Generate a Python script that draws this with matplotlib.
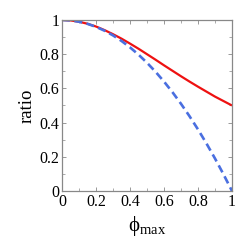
import matplotlib
matplotlib.use("Agg")
import matplotlib.pyplot as plt
from matplotlib.ticker import MultipleLocator, FixedLocator, FixedFormatter

phi = [0.0, 0.05, 0.1, 0.15, 0.2, 0.25, 0.3, 0.35, 0.4, 0.45, 0.5,
       0.55, 0.6, 0.65, 0.7, 0.75, 0.8, 0.85, 0.9, 0.95, 1.0]
ratio_red = [1.0, 0.9975, 0.990, 0.978, 0.962, 0.941, 0.917, 0.891, 0.862, 0.832, 0.800,
             0.768, 0.735, 0.703, 0.671, 0.640, 0.610, 0.581, 0.552, 0.526, 0.500]
ratio_blue = [1.0, 0.9975, 0.990, 0.9775, 0.960, 0.9375, 0.910, 0.8775, 0.840, 0.7975, 0.750,
              0.6975, 0.640, 0.5775, 0.510, 0.4375, 0.360, 0.2775, 0.190, 0.0975, 0.0]
tick_vals = [0, 0.2, 0.4, 0.6, 0.8, 1]
tick_labels = ["0", "0.2", "0.4", "0.6", "0.8", "1"]

plt.rcParams['font.family'] = ['Liberation Serif', 'DejaVu Serif']
plt.rcParams['mathtext.fontset'] = 'custom'
plt.rcParams['mathtext.rm'] = 'Liberation Serif'
plt.rcParams['mathtext.it'] = 'Liberation Serif:italic'

fig = plt.figure(figsize=(2.53, 2.45), dpi=100)
ax = fig.add_axes([62/253, 1 - 191/245, 170/253, 171/245])

ax.plot(phi, ratio_red, color='#ee1111', lw=1.6, solid_capstyle='butt')
ax.plot(phi, ratio_blue, color='#4a6fe0', lw=1.9, dashes=(3, 1.7))

ax.set_xlim(0, 1)
ax.set_ylim(0, 1)
for a in (ax.xaxis, ax.yaxis):
    a.set_major_locator(FixedLocator(tick_vals))
    a.set_major_formatter(FixedFormatter(tick_labels))
    a.set_minor_locator(MultipleLocator(0.1))
ax.tick_params(which='both', direction='in', top=True, right=True,
               color='#888888', labelsize=11.5, labelcolor='black', pad=2)
ax.tick_params(which='major', length=3, width=0.6)
ax.tick_params(which='minor', length=2, width=0.5)
for s in ax.spines.values():
    s.set_color('#888888')
    s.set_linewidth(0.9)

ax.set_ylabel('ratio', fontsize=13.5, labelpad=3)
ax.set_xlabel('ϕ$_{\\mathrm{max}}$', fontsize=15, labelpad=3)

fig.savefig('out.png', dpi=100)
